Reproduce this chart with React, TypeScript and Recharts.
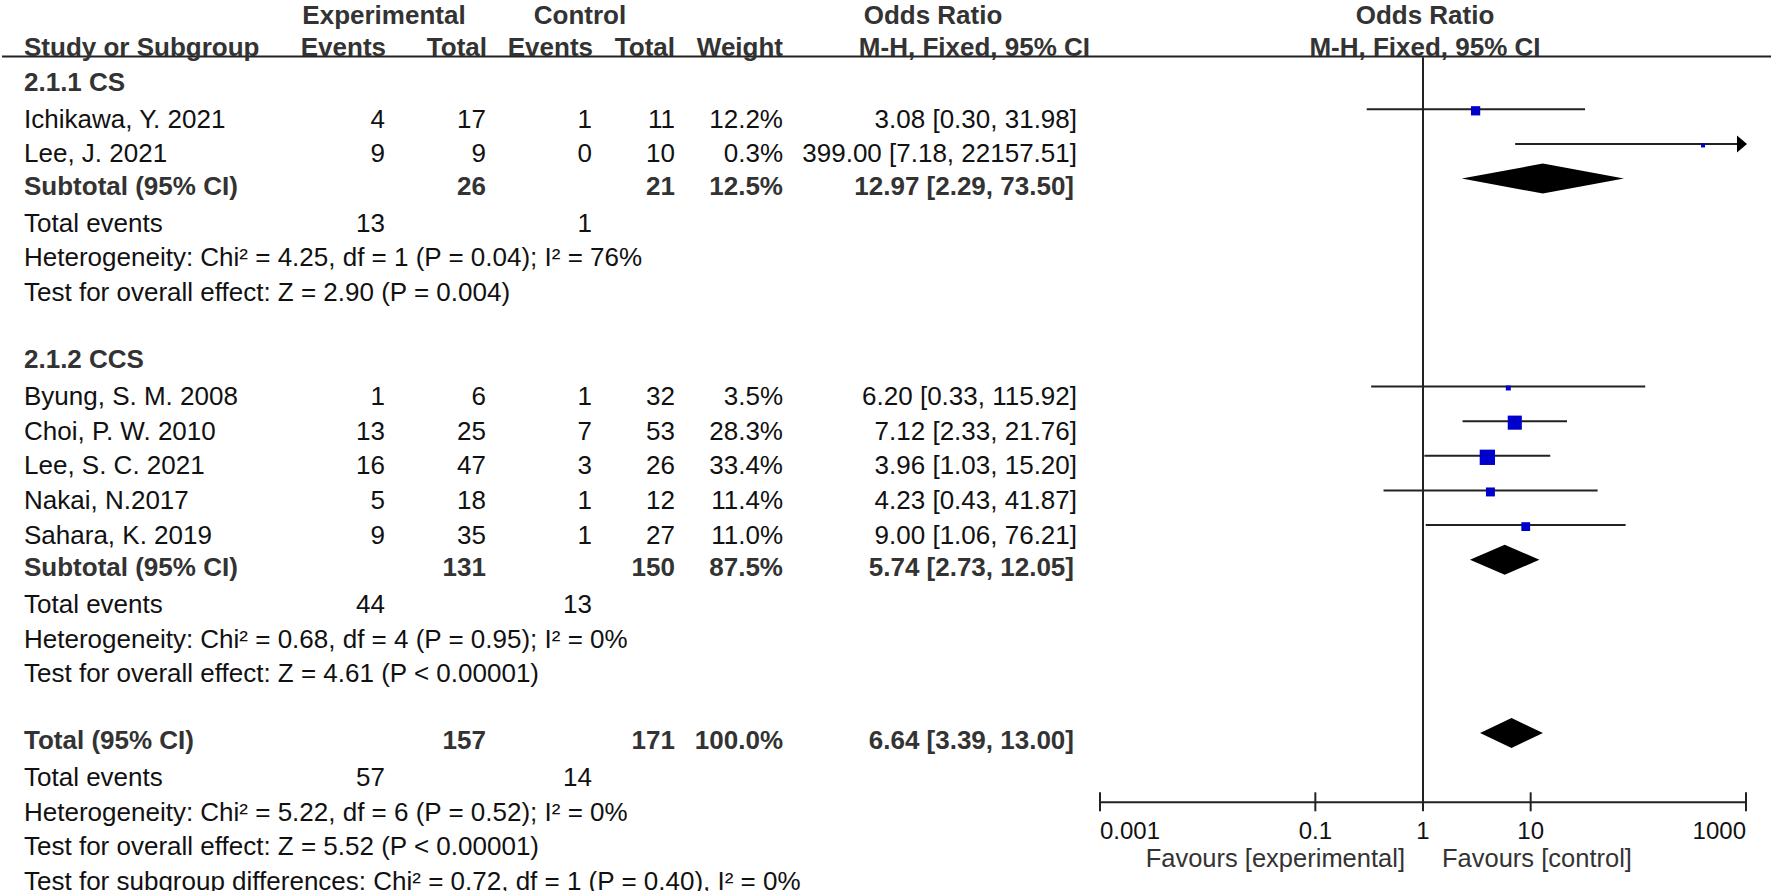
import { ScatterChart, Scatter, XAxis, YAxis, ReferenceLine } from "recharts";

const W = 1771;
const H = 891;
const FONT = "'Liberation Sans', Arial, Helvetica, sans-serif";

// ---- study level data ----
const studyNames = ["Ichikawa, Y. 2021", "Lee, J. 2021", "Byung, S. M. 2008", "Choi, P. W. 2010", "Lee, S. C. 2021", "Nakai, N.2017", "Sahara, K. 2019"];
const studyGroup = [0, 0, 1, 1, 1, 1, 1];
const expEvents = [4, 9, 1, 13, 16, 5, 9];
const expTotal = [17, 9, 6, 25, 47, 18, 35];
const ctlEvents = [1, 0, 1, 7, 3, 1, 1];
const ctlTotal = [11, 10, 32, 53, 26, 12, 27];
const weights = [12.2, 0.3, 3.5, 28.3, 33.4, 11.4, 11.0];
const oddsRatio = [3.08, 399.0, 6.2, 7.12, 3.96, 4.23, 9.0];
const ciLower = [0.3, 7.18, 0.33, 2.33, 1.03, 0.43, 1.06];
const ciUpper = [31.98, 22157.51, 115.92, 21.76, 15.2, 41.87, 76.21];

// ---- subgroup data ----
const groupLabels = ["2.1.1 CS", "2.1.2 CCS"];
const groupExpTotal = [26, 131];
const groupCtlTotal = [21, 150];
const groupWeight = [12.5, 87.5];
const groupOR = [12.97, 5.74];
const groupLower = [2.29, 2.73];
const groupUpper = [73.5, 12.05];
const groupExpEvents = [13, 44];
const groupCtlEvents = [1, 13];
const groupHet = ["Heterogeneity: Chi² = 4.25, df = 1 (P = 0.04); I² = 76%", "Heterogeneity: Chi² = 0.68, df = 4 (P = 0.95); I² = 0%"];
const groupEffect = ["Test for overall effect: Z = 2.90 (P = 0.004)", "Test for overall effect: Z = 4.61 (P < 0.00001)"];

// ---- overall ----
const totalExp = 157;
const totalCtl = 171;
const totalWeight = 100.0;
const totalOR = 6.64;
const totalLower = 3.39;
const totalUpper = 13.0;
const totalExpEvents = 57;
const totalCtlEvents = 14;
const totalHet = "Heterogeneity: Chi² = 5.22, df = 6 (P = 0.52); I² = 0%";
const totalEffect = "Test for overall effect: Z = 5.52 (P < 0.00001)";
const subgroupDiff = "Test for subgroup differences: Chi² = 0.72, df = 1 (P = 0.40), I² = 0%";

const axisTicks = [0.001, 0.1, 1, 10, 1000];
const favourLabels = ["Favours [experimental]", "Favours [control]"];

// ---- layout ----
const ROW0 = 5.35;
const ROW_H = 34.65;
const Y_DOMAIN: [number, number] = [1.5, 23];
const X_DOMAIN: [number, number] = [axisTicks[0], axisTicks[axisTicks.length - 1]];
const PLOT_LEFT = 1100;
const PLOT_RIGHT = 1746;
const XAXIS_H = 60;
const COL = { name: 24, expEv: 385, expTot: 486, ctlEv: 592, ctlTot: 675, weight: 783, or: 1077 };
const INK = "#222";

const f2 = (v: number) => v.toFixed(2);
const orText = (o: number, l: number, u: number) => `${f2(o)} [${f2(l)}, ${f2(u)}]`;
const pct = (w: number) => `${w.toFixed(1)}%`;

type Anchor = "start" | "middle" | "end";
type Cell = { text: string; x: number; anchor: Anchor };
type Row = { r: number; bold: boolean; cells: Cell[]; dy?: number };

const rows: Row[] = [];
const studyRow: number[] = [];
const groupRow: number[] = [];

rows.push({
  r: 0, bold: true, dy: 18.7, cells: [
    { text: "Experimental", x: 384, anchor: "middle" },
    { text: "Control", x: 580, anchor: "middle" },
    { text: "Odds Ratio", x: 933, anchor: "middle" },
    { text: "Odds Ratio", x: 1425, anchor: "middle" },
  ],
});
rows.push({
  r: 1, bold: true, cells: [
    { text: "Study or Subgroup", x: COL.name, anchor: "start" },
    { text: "Events", x: 386, anchor: "end" },
    { text: "Total", x: 487, anchor: "end" },
    { text: "Events", x: 593, anchor: "end" },
    { text: "Total", x: COL.ctlTot, anchor: "end" },
    { text: "Weight", x: COL.weight, anchor: "end" },
    { text: "M-H, Fixed, 95% CI", x: 1090, anchor: "end" },
    { text: "M-H, Fixed, 95% CI", x: 1425, anchor: "middle" },
  ],
});

let r = 2;
groupLabels.forEach((label, g) => {
  rows.push({ r: r++, bold: true, cells: [{ text: label, x: COL.name, anchor: "start" }] });
  studyNames.forEach((name, i) => {
    if (studyGroup[i] !== g) return;
    studyRow[i] = r;
    rows.push({
      r: r++, bold: false, cells: [
        { text: name, x: COL.name, anchor: "start" },
        { text: String(expEvents[i]), x: COL.expEv, anchor: "end" },
        { text: String(expTotal[i]), x: COL.expTot, anchor: "end" },
        { text: String(ctlEvents[i]), x: COL.ctlEv, anchor: "end" },
        { text: String(ctlTotal[i]), x: COL.ctlTot, anchor: "end" },
        { text: pct(weights[i]), x: COL.weight, anchor: "end" },
        { text: orText(oddsRatio[i], ciLower[i], ciUpper[i]), x: COL.or, anchor: "end" },
      ],
    });
  });
  groupRow[g] = r;
  rows.push({
    r: r++, bold: true, cells: [
      { text: "Subtotal (95% CI)", x: COL.name, anchor: "start" },
      { text: String(groupExpTotal[g]), x: COL.expTot, anchor: "end" },
      { text: String(groupCtlTotal[g]), x: COL.ctlTot, anchor: "end" },
      { text: pct(groupWeight[g]), x: COL.weight, anchor: "end" },
      { text: orText(groupOR[g], groupLower[g], groupUpper[g]), x: COL.or - 3, anchor: "end" },
    ],
  });
  rows.push({
    r: r++, bold: false, cells: [
      { text: "Total events", x: COL.name, anchor: "start" },
      { text: String(groupExpEvents[g]), x: COL.expEv, anchor: "end" },
      { text: String(groupCtlEvents[g]), x: COL.ctlEv, anchor: "end" },
    ],
  });
  rows.push({ r: r++, bold: false, cells: [{ text: groupHet[g], x: COL.name, anchor: "start" }] });
  rows.push({ r: r++, bold: false, cells: [{ text: groupEffect[g], x: COL.name, anchor: "start" }] });
  r++;
});
const totalRow = r;
rows.push({
  r: r++, bold: true, cells: [
    { text: "Total (95% CI)", x: COL.name, anchor: "start" },
    { text: String(totalExp), x: COL.expTot, anchor: "end" },
    { text: String(totalCtl), x: COL.ctlTot, anchor: "end" },
    { text: pct(totalWeight), x: COL.weight, anchor: "end" },
    { text: orText(totalOR, totalLower, totalUpper), x: COL.or - 3, anchor: "end" },
  ],
});
rows.push({
  r: r++, bold: false, cells: [
    { text: "Total events", x: COL.name, anchor: "start" },
    { text: String(totalExpEvents), x: COL.expEv, anchor: "end" },
    { text: String(totalCtlEvents), x: COL.ctlEv, anchor: "end" },
  ],
});
rows.push({ r: r++, bold: false, cells: [{ text: totalHet, x: COL.name, anchor: "start" }] });
rows.push({ r: r++, bold: false, cells: [{ text: totalEffect, x: COL.name, anchor: "start" }] });
rows.push({ r: r++, bold: false, cells: [{ text: subgroupDiff, x: COL.name, anchor: "start" }] });

// ---- chart series ----
const clampX = (v: number) => Math.min(Math.max(v, X_DOMAIN[0]), X_DOMAIN[1]);
const ciSeries = studyNames.map((_, i) => ({
  arrow: ciUpper[i] > X_DOMAIN[1],
  data: [
    { x: clampX(ciLower[i]), y: studyRow[i] },
    { x: clampX(ciUpper[i]), y: studyRow[i] },
  ],
}));
const squares = studyNames.map((_, i) => ({ x: oddsRatio[i], y: studyRow[i], w: weights[i] }));
const diamonds = [
  ...groupLabels.map((_, g) => ({ lo: groupLower[g], or: groupOR[g], hi: groupUpper[g], row: groupRow[g] })),
  { lo: totalLower, or: totalOR, hi: totalUpper, row: totalRow },
].map((d) => [
  { x: d.lo, y: d.row },
  { x: d.or, y: d.row },
  { x: d.hi, y: d.row },
]);

const NoDot = () => <g />;

const CiLine = (p: any, arrow: boolean) => {
  const [a, b] = p.points;
  return (
    <g>
      <line x1={a.x} y1={a.y} x2={b.x} y2={b.y} stroke={INK} strokeWidth={2} />
      {arrow && <polygon points={`${b.x - 9},${b.y - 8.5} ${b.x + 1},${b.y} ${b.x - 9},${b.y + 8.5}`} fill="#000" />}
    </g>
  );
};

const DiamondShape = (p: any) => {
  const [l, c, u] = p.points;
  const h = 15;
  return <polygon points={`${l.x},${l.y} ${c.x},${c.y - h} ${u.x},${u.y} ${c.x},${c.y + h}`} fill="#000" />;
};

const SquareShape = (p: any) => {
  const s = Math.max(4, 2.65 * Math.sqrt(p.payload.w));
  return <rect x={p.cx - s / 2} y={p.cy - s / 2 + 1.5} width={s} height={s} fill="#0000CC" />;
};

const AxisTick = (p: any) => {
  const v = p.payload.value;
  const anchor: Anchor = v === axisTicks[0] ? "start" : v === axisTicks[axisTicks.length - 1] ? "end" : "middle";
  return (
    <g>
      <line x1={p.x} x2={p.x} y1={p.y - 10} y2={p.y + 9} stroke={INK} strokeWidth={2} />
      <text x={p.x} y={p.y + 36.5} textAnchor={anchor} fontSize={24} fontFamily={FONT} fill="#111">
        {String(v)}
      </text>
    </g>
  );
};

export default function App() {
  const top = ROW0 + ROW_H * Y_DOMAIN[0];
  const plotBottom = ROW0 + ROW_H * Y_DOMAIN[1];
  return (
    <div style={{ position: "absolute", left: 0, top: 0, width: W, height: H, background: "#fff", overflow: "hidden" }}>
      <div style={{ position: "absolute", left: 0, top: 0 }}>
        <ScatterChart
          width={W}
          height={H}
          margin={{ top, right: W - PLOT_RIGHT, bottom: H - plotBottom - XAXIS_H, left: PLOT_LEFT }}
        >
          <XAxis
            dataKey="x"
            type="number"
            scale="log"
            domain={X_DOMAIN}
            ticks={axisTicks}
            interval={0}
            height={XAXIS_H}
            tickSize={0}
            tickMargin={0}
            tickLine={false}
            axisLine={{ stroke: INK, strokeWidth: 2 }}
            tick={<AxisTick />}
          />
          <YAxis dataKey="y" type="number" domain={Y_DOMAIN} reversed hide />
          <ReferenceLine x={1} stroke={INK} strokeWidth={2} />
          {ciSeries.map((s, i) => (
            <Scatter
              key={`ci-${i}`}
              data={s.data}
              shape={NoDot}
              line={(p: any) => CiLine(p, s.arrow)}
              isAnimationActive={false}
            />
          ))}
          <Scatter data={squares} shape={SquareShape} isAnimationActive={false} />
          {diamonds.map((d, i) => (
            <Scatter key={`dm-${i}`} data={d} shape={NoDot} line={DiamondShape} isAnimationActive={false} />
          ))}
        </ScatterChart>
      </div>
      <svg width={W} height={H} style={{ position: "absolute", left: 0, top: 0, pointerEvents: "none" }} fontFamily={FONT}>
        <line x1={2} x2={W} y1={56.5} y2={56.5} stroke={INK} strokeWidth={2} />
        {rows.map((row) =>
          row.cells.map((c, j) => (
            <text
              key={`${row.r}-${j}`}
              x={c.x}
              y={ROW0 + ROW_H * row.r + (row.dy ?? (row.bold ? 16 : 18.5))}
              textAnchor={c.anchor}
              fontSize={26}
              fontWeight={row.bold ? 700 : 400}
              fill={row.bold ? "#333" : "#111"}
            >
              {c.text}
            </text>
          ))
        )}
        <text x={1405} y={867} textAnchor="end" fontSize={25.5} fill="#333">{favourLabels[0]}</text>
        <text x={1442} y={867} textAnchor="start" fontSize={25.5} fill="#333">{favourLabels[1]}</text>
      </svg>
    </div>
  );
}
